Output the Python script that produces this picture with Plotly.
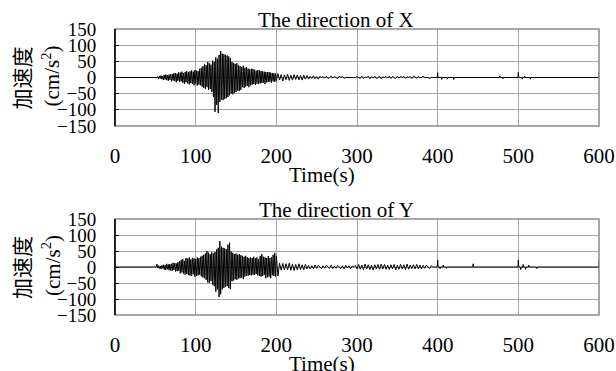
import numpy as np
import plotly.graph_objects as go

# ---------------- data ----------------
# 1-s samples from 50 s to 199 s
x_burst = [0, 0, 0, 3, -4, 5, -3, 6, -5, 4,
           -7, 8, -6, 9, -8, 7, -10, 9, -7, 11,
           -12, 10, -9, 14, -11, 13, -15, 12, -10, 16,
           -13, 15, -12, 18, -16, 14, -19, 17, -15, 20,
           -18, 16, -21, 19, -17, 22, -20, 18, -24, 23,
           -19, 21, -25, 20, -22, 27, -24, 30, -28, 35,
           -32, 42, -35, 38, -30, 48, -39, 44, -36, 40,
           -45, 52, -60, 48, -106, 62, -85, 58, -110, 70,
           -75, 82, -68, 74, -70, 72, -66, 70, -64, 68,
           -60, 65, -55, 60, -50, 48, -52, 45, -48, 42,
           -45, 44, -40, 38, -42, 35, -38, 33, -30, 36,
           -32, 30, -28, 32, -26, 28, -30, 25, -24, 27,
           -22, 26, -20, 24, -23, 21, -19, 23, -20, 22,
           -18, 20, -17, 19, -16, 18, -20, 17, -15, 16,
           -14, 17, -13, 15, -16, 14, -12, 13, -14, 12]
# 2-s samples from 200 s to 398 s
x_coda = [-10, 12, -8, 9, -11, 8, -7, 10, -9, 7, -8, 9, -6, 8, -7, 6, -8, 7, -5, 6,
          -5, 4, -3, 5, -4, 3, -5, 4, 0, 3, -2, 4, -3, 0, 4, -2, 3, 0, -3, 4, 0, 3, -2,
          0, 0, 0, 0, 0, 0, 0,
          3, 0, -3, 4, -3, 2, 0, 4, -4, 3, -2, 4, -3, 0, 3, -4, 2, 0, 3, -2,
          4, -3, 3, 0, -3, 4, -2, 3, 0, 4, -3, 2, 0, 3, -3, 4, 0, -2, 3, 0,
          0, 4, 0, 0, 0, -3, 0, 0, 0, 0]
# isolated spikes after 400 s (time, value)
x_spike_t = [400, 405, 412, 420, 477, 481, 500, 505, 508, 515, 600]
x_spike_v = [15, -6, -5, -6, 5, -4, 16, -5, 4, -5, 16]

y_burst = [0, 0, 9, -3, 4, -5, 3, -6, 5, -4,
           7, -8, 6, -9, 10, -7, 8, -10, 9, -11,
           10, -12, 13, -9, 12, -14, 11, -13, 15, -12,
           18, -20, 22, -17, 25, -21, 19, -24, 28, -22,
           26, -25, 30, -27, 24, -28, 29, -23, 27, -30,
           25, -28, 30, -26, 28, -24, 32, -29, 35, -33,
           38, -35, 42, -40, 50, -48, 45, -50, 40, -44,
           46, -55, 42, -60, 47, -77, 55, -70, 60, -94,
           81, -85, 64, -70, 60, -65, 58, -62, 55, -60,
           70, -66, 76, -69, 48, -45, 44, -42, 40, -38,
           42, -40, 38, -36, 40, -35, 37, -33, 35, -38,
           32, -30, 35, -28, 30, -27, 28, -25, 30, -26,
           28, -24, 32, -25, 27, -22, 30, -26, 25, -28,
           35, -30, 40, -28, 32, -25, 30, -35, 28, -32,
           34, -30, 28, -35, 30, -26, 38, -28, 44, -30]
y_coda = [35, -28, 12, -10, 11, -9, 10, -8, 12, -10, 9, -11, 8, -9, 10, -8, 7, -9, 8, -6,
          5, -6, 4, -5, 6, -4, 5, 0, -5, 4, -3, 5, 0, -4, 6, -5, 3, -4, 5, 0,
          -5, 4, -6, 5, -3, 4, -5, 3, 0, 5,
          -6, 8, -7, 6, -8, 9, -6, 7, -8, 6, -9, 7, -6, 8, -7, 9, -6, 8, -7, 6,
          -8, 7, -6, 8, -9, 6, -7, 8, -6, 7, -8, 9, -7, 6, -5, 7, -6, 8, -5, 6,
          -6, 5, -4, 6, 0, -5, 4, 0, 0, 0]
y_spike_t = [400, 403, 407, 411, 444, 500, 503, 506, 509, 513, 523, 600]
y_spike_v = [22, -5, 6, -4, 10, 22, -8, 8, -7, 6, -5, 22]

x_ticks = [0, 100, 200, 300, 400, 500, 600]
y_ticks = [-150, -100, -50, 0, 50, 100, 150]
titles = ["The direction of X", "The direction of Y"]
x_title = "Time(s)"
y_title_1 = "加速度"
y_title_2 = "(cm/s<sup>2</sup>)"

# ---------------- assemble series ----------------
def series(burst, coda, spike_t, spike_v):
    t = [0, 49] + list(np.arange(50, 50 + len(burst))) + \
        list(np.arange(200, 200 + 2 * len(coda), 2))
    v = [0, 0] + burst + coda
    for st, sv in zip(spike_t, spike_v):
        if st >= 600:
            t += [599.5, st]
            v += [0, sv]
        else:
            t += [st - 0.5, st, st + 0.5]
            v += [0, sv, 0]
    if t[-1] < 600:
        t.append(600)
        v.append(0)
    return t, v

tx, vx = series(x_burst, x_coda, x_spike_t, x_spike_v)
ty, vy = series(y_burst, y_coda, y_spike_t, y_spike_v)

W, H = 616, 371
L, R = 115, 599
panels = [(29, 126), (219, 315)]

def fx(px):
    return px / W

def fy(py):
    return 1 - py / H

fig = go.Figure()
fig.add_trace(go.Scatter(x=tx, y=vx, mode="lines", line=dict(color="black", width=1),
                         xaxis="x", yaxis="y", showlegend=False, hoverinfo="skip"))
fig.add_trace(go.Scatter(x=ty, y=vy, mode="lines", line=dict(color="black", width=1),
                         xaxis="x2", yaxis="y2", showlegend=False, hoverinfo="skip"))

serif = "Liberation Serif, Times New Roman, serif"
grid = "#a6a6a6"
xd = [fx(L), fx(R)]

common_x = dict(range=[0, 600], tickvals=x_ticks, showgrid=True, gridcolor=grid, gridwidth=1,
                zeroline=False, showline=False, ticks="", ticklabelstandoff=15, automargin=False,
                tickfont=dict(family=serif, size=21, color="black"), fixedrange=True)
common_y = dict(range=[-150, 150], tickvals=y_ticks, showgrid=True, gridcolor=grid, gridwidth=1,
                zeroline=False, showline=True, linecolor="black", linewidth=1, mirror=False,
                ticks="inside", ticklen=4, tickcolor="black", ticklabelstandoff=14, automargin=False,
                tickfont=dict(family=serif, size=19, color="black"), fixedrange=True)

fig.update_layout(
    template="none",
    width=W, height=H, margin=dict(l=0, r=0, t=0, b=0, autoexpand=False),
    paper_bgcolor="white", plot_bgcolor="white",
    xaxis=dict(domain=xd, anchor="y", **common_x),
    yaxis=dict(domain=[fy(panels[0][1]), fy(panels[0][0])], anchor="x", **common_y),
    xaxis2=dict(domain=xd, anchor="y2", **common_x),
    yaxis2=dict(domain=[fy(panels[1][1]), fy(panels[1][0])], anchor="x2", **common_y),
)

shapes = []
annotations = []
for i, (top, bot) in enumerate(panels):
    xr = "x" if i == 0 else "x2"
    yr = "y" if i == 0 else "y2"
    shapes.append(dict(type="rect", xref=xr + " domain", yref=yr + " domain",
                       x0=0, x1=1, y0=0, y1=1, line=dict(color="#8c8c8c", width=1.5),
                       layer="above"))
    shapes.append(dict(type="line", xref=xr + " domain", yref=yr + " domain",
                       x0=0, x1=0, y0=0, y1=1, line=dict(color="black", width=1.5),
                       layer="above"))
    mid = (top + bot) / 2
    annotations.append(dict(text=titles[i], xref="paper", yref="paper",
                            x=fx(336), y=fy(top - 9), xanchor="center", yanchor="middle",
                            showarrow=False, font=dict(family=serif, size=21, color="black")))
    annotations.append(dict(text=x_title, xref="paper", yref="paper",
                            x=fx(322), y=fy(bot + 49), xanchor="center", yanchor="middle",
                            showarrow=False, font=dict(family=serif, size=21, color="black")))
    annotations.append(dict(text=y_title_1, xref="paper", yref="paper", textangle=-90,
                            x=fx(21), y=fy(mid + 1), xanchor="center", yanchor="middle",
                            showarrow=False,
                            font=dict(family="Noto Sans CJK SC", size=21, color="black")))
    annotations.append(dict(text=y_title_2, xref="paper", yref="paper", textangle=-90,
                            x=fx(51), y=fy(mid - 1), xanchor="center", yanchor="middle",
                            showarrow=False, font=dict(family=serif, size=21, color="black")))

fig.update_layout(shapes=shapes, annotations=annotations)
fig.write_html("out.html", config={"displayModeBar": False},
               post_script="document.body.style.margin='0';document.body.style.overflow='hidden';")
